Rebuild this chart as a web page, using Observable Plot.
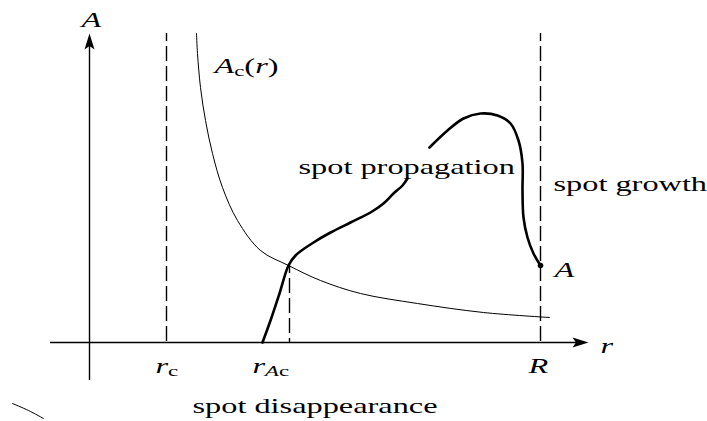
<!DOCTYPE html>
<html><head><meta charset="utf-8">
<script src="https://cdn.jsdelivr.net/npm/d3@7"></script>
<script src="https://cdn.jsdelivr.net/npm/@observablehq/plot@0.6"></script>
<style>html,body{margin:0;padding:0;background:#fff}svg{display:block}</style>
</head><body><div id="chart"></div>
<script>
// Schematic coordinates: r to the right, A upward, origin where the axes cross.
const rAxis = [{x1: -39, x2: 499, y: 0}];
const aAxis = [{x: 0, y1: -38, y2: 309}];

// dashed guides: r_c, R (full height) and r_Ac (up to the crossing)
const guideX  = [77, 451, 200];
const guideY1 = [309, 309, 77];

// critical amplitude A_c(r) (thin curve)
const acR = [107, 108, 111, 116, 123, 133, 148, 171, 199, 231, 271, 328, 394, 460];
const acA = [309, 289, 255, 222, 189, 155, 122, 92, 77, 62, 49, 39, 30, 25];

// spot trajectory (thick curve), two pieces separated by the label
const pathR   = [173, 181, 190, 199, 206, 224, 241, 261, 281, 294, 304, 313, 318,
                 340, 358, 374, 391, 408, 421, 429, 433, 433, 434, 438, 444, 451];
const pathA   = [0, 22, 49, 77, 87, 100, 110, 120, 130, 139, 149, 157, 164,
                 195, 212, 224, 229, 227, 219, 202, 179, 152, 125, 105, 89, 77];
const pathSeg = [1,1,1,1,1,1,1,1,1,1,1,1,1, 2,2,2,2,2,2,2,2,2,2,2,2,2];
const endR = [451], endA = [77];

// small stray stroke at bottom left
const strayR = [-77, -61, -46];
const strayA = [-61, -68, -76];

// labels (baseline-anchored, start-aligned)
const labelText = ["A", "Ac(r)", "spot propagation", "spot growth", "spot disappearance",
                   "rc", "rAc", "R", "r", "A "];
const labelX = [-8, 125, 209, 464, 103, 66, 163, 439, 511, 465];
const labelY = [316, 270, 169, 152, -70, -30, -30, -30, -10, 66];

// rich rendering of math labels: i = italic, s = subscript
const rich = {
  "A": [["A", "i"]],
  "A ": [["A", "i"]],
  "Ac(r)": [["A", "i"], ["c", "s"], ["(", ""], ["r", "i"], [")", ""]],
  "rc": [["r", "i"], ["c", "s"]],
  "rAc": [["r", "i"], ["A", "is"], ["c", "s"]],
  "R": [["R", "i"]],
  "r": [["r", "i"]]
};

const guides = guideX.map((x, i) => ({x, y1: guideY1[i], y2: 0}));
const ac = acR.map((r, i) => ({r, a: acA[i]}));
const path = pathR.map((r, i) => ({r, a: pathA[i], seg: pathSeg[i]}));
const endPt = endR.map((r, i) => ({r, a: endA[i]}));
const stray = strayR.map((r, i) => ({r, a: strayA[i]}));
const labels = labelText.map((t, i) => ({t, x: labelX[i], y: labelY[i]}));

const arrowUp = {draw(ctx) { ctx.moveTo(0, 0); ctx.lineTo(5, 16); ctx.lineTo(0, 12.5); ctx.lineTo(-5, 16); ctx.closePath(); }};
const arrowRight = {draw(ctx) { ctx.moveTo(0, 0); ctx.lineTo(-16, -5); ctx.lineTo(-12.5, 0); ctx.lineTo(-16, 5); ctx.closePath(); }};

const FONT = "Liberation Serif";
const SX = 1.47;

const svg = Plot.plot({
  width: 707, height: 421, margin: 0,
  x: {domain: [-89, 618], range: [0, 707], axis: null},
  y: {domain: [-79, 342], range: [421, 0], axis: null},
  style: {background: "#fff", color: "#000"},
  marks: [
    Plot.ruleX(guides, {x: "x", y1: "y1", y2: "y2", stroke: "#000", strokeWidth: 1.4, strokeDasharray: "15,5", strokeDashoffset: 7}),
    Plot.ruleY(rAxis, {y: "y", x1: "x1", x2: d => d.x2 - 6, stroke: "#000", strokeWidth: 1.4}),
    Plot.ruleX(aAxis, {x: "x", y1: "y1", y2: d => d.y2 - 6, stroke: "#000", strokeWidth: 1.4}),
    Plot.dot(aAxis, {x: "x", y: "y2", symbol: arrowUp, r: 5, fill: "#000", stroke: "none"}),
    Plot.dot(rAxis, {x: "x2", y: "y", symbol: arrowRight, r: 5, fill: "#000", stroke: "none"}),
    Plot.line(ac, {x: "r", y: "a", curve: "catmull-rom", stroke: "#000", strokeWidth: 1}),
    Plot.line(path, {x: "r", y: "a", z: "seg", curve: "catmull-rom", stroke: "#000", strokeWidth: 2.6, strokeLinecap: "round"}),
    Plot.dot(endPt, {x: "r", y: "a", r: 2.8, fill: "#000", stroke: "none"}),
    Plot.line(stray, {x: "r", y: "a", curve: "catmull-rom", stroke: "#000", strokeWidth: 1}),
    Plot.text(labels, {x: "x", y: "y", text: "t", textAnchor: "start", lineAnchor: "bottom",
                       fontFamily: FONT, fontSize: 22, fill: "#000"})
  ]
});

d3.select(svg).selectAll("text").each(function () {
  const t = d3.select(this);
  const s = this.textContent;
  const parts = rich[s];
  if (parts) {
    t.text(null);
    let shift = 0;
    for (const [str, kind] of parts) {
      const ts = t.append("tspan").text(str);
      if (kind.includes("i")) ts.attr("font-style", "italic");
      if (kind.includes("s")) {
        ts.attr("font-size", "15.5px");
        if (shift !== 3.5) ts.attr("dy", 3.5 - shift);
        shift = 3.5;
      } else if (shift) {
        ts.attr("dy", -shift);
        shift = 0;
      }
    }
  }
  let tr = t.attr("transform");
  if (!tr) {
    tr = `translate(${t.attr("x") || 0},${t.attr("y") || 0})`;
    t.attr("x", null).attr("y", null);
  }
  t.attr("transform", tr + ` scale(${SX},1)`);
});

document.getElementById("chart").appendChild(svg);
</script>
</body></html>
